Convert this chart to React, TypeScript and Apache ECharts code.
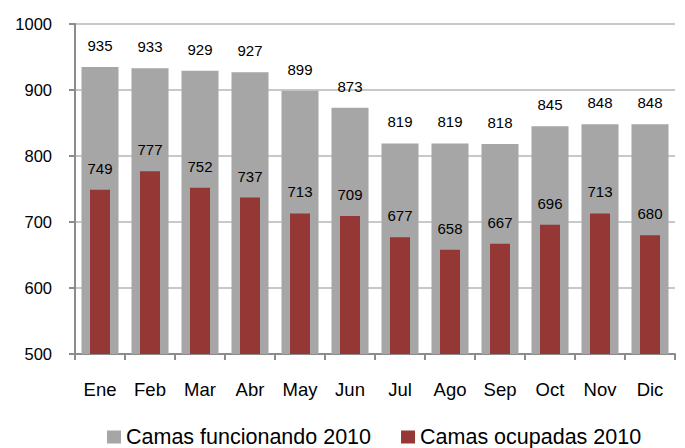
import React, { useEffect, useRef } from "react";
import * as echarts from "echarts";

const categories = ["Ene", "Feb", "Mar", "Abr", "May", "Jun", "Jul", "Ago", "Sep", "Oct", "Nov", "Dic"];
const funcionando = [935, 933, 929, 927, 899, 873, 819, 819, 818, 845, 848, 848];
const ocupadas = [749, 777, 752, 737, 713, 709, 677, 658, 667, 696, 713, 680];
const seriesNames = ["Camas funcionando 2010", "Camas ocupadas 2010"];

const FONT = "'Liberation Sans', Arial, sans-serif";

export default function App() {
  const ref = useRef<HTMLDivElement>(null);
  useEffect(() => {
    if (!ref.current) return;
    const chart = echarts.init(ref.current, null, { renderer: "svg" });
    chart.setOption({
      animation: false,
      textStyle: { fontFamily: FONT },
      grid: { left: 75, right: 10, top: 24, bottom: 94 },
      legend: {
        top: 426,
        left: 107,
        padding: 0,
        itemWidth: 14,
        itemHeight: 13,
        itemGap: 30,
        icon: "rect",
        textStyle: { fontSize: 21.5, color: "#000", fontFamily: FONT },
        data: seriesNames,
      },
      xAxis: [
        {
          type: "category",
          data: categories,
          axisLine: { lineStyle: { color: "#8c8c8c", width: 2 } },
          axisTick: { show: true, length: 6, lineStyle: { color: "#8c8c8c", width: 2 } },
          axisLabel: { fontSize: 18.5, color: "#000", margin: 26, fontFamily: FONT },
        },
        {
          type: "category",
          data: categories,
          show: false,
        },
      ],
      yAxis: {
        type: "value",
        min: 500,
        max: 1000,
        interval: 100,
        axisLine: { show: true, lineStyle: { color: "#8c8c8c", width: 2 } },
        axisTick: { show: true, length: 6, lineStyle: { color: "#8c8c8c", width: 2 } },
        axisLabel: { fontSize: 16.5, color: "#000", margin: 23, fontFamily: FONT, formatter: (v: number) => String(v) },
        splitLine: { show: true, lineStyle: { color: "#c8c8c8", width: 2 } },
      },
      series: [
        {
          name: seriesNames[0],
          type: "bar",
          xAxisIndex: 0,
          data: funcionando,
          barWidth: 37,
          itemStyle: { color: "#a6a6a6" },
          label: { show: true, position: "top", distance: 14, fontSize: 15, color: "#000", fontFamily: FONT },
        },
        {
          name: seriesNames[1],
          type: "bar",
          xAxisIndex: 1,
          data: ocupadas,
          barWidth: 20,
          itemStyle: { color: "#953735" },
          label: { show: true, position: "top", distance: 14, fontSize: 15, color: "#000", fontFamily: FONT },
        },
      ],
    });
    return () => chart.dispose();
  }, []);
  return <div ref={ref} style={{ width: 685, height: 448, position: "absolute", left: 0, top: 0 }} />;
}
